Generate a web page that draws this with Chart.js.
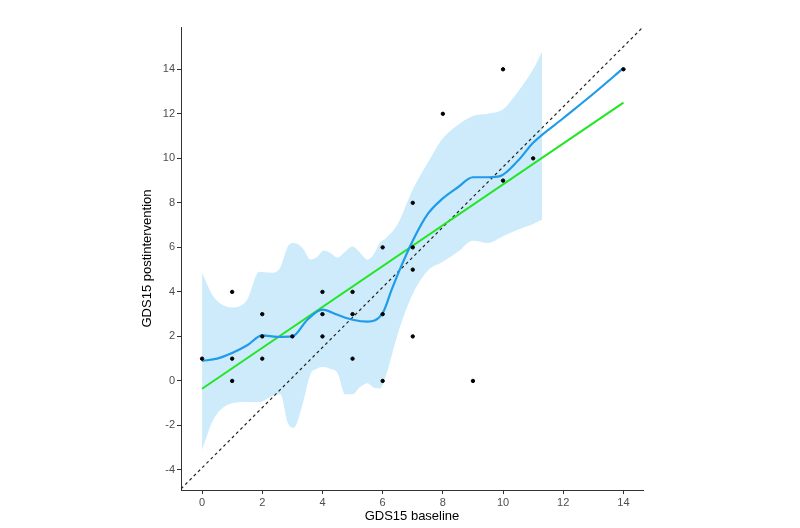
<!DOCTYPE html>
<html>
<head>
<meta charset="utf-8">
<script src="https://cdn.jsdelivr.net/npm/chart.js@4"></script>
<style>
  html, body { margin: 0; padding: 0; background: #fff; }
  #wrap { width: 800px; height: 528px; }
</style>
</head>
<body>
<div id="wrap"><canvas id="gdsChart"></canvas></div>
<script>
// observed scores
var baselineX = [0, 1, 1, 1, 2, 2, 2, 3, 4, 4, 4, 5, 5, 5, 6, 6, 6, 7, 7, 7, 7, 8, 9, 10, 10, 11, 14];
var postY     = [1, 4, 1, 0, 3, 2, 1, 2, 4, 3, 2, 4, 3, 1, 6, 3, 0, 8, 6, 5, 2, 12, 0, 14, 9, 10, 14];

// loess smooth
var loessX = [0, 0.5, 1, 1.5, 2, 2.5, 3, 3.5, 4, 4.5, 5, 5.5, 6, 6.3, 6.6, 7, 7.5, 8, 8.5, 9, 9.5, 9.9, 10.5, 11, 12, 13, 14];
var loessY = [0.9, 1.0, 1.25, 1.6, 2.05, 1.98, 2.0, 2.75, 3.2, 2.97, 2.75, 2.66, 3.05, 4.1, 5.1, 6.3, 7.5, 8.2, 8.7, 9.15, 9.15, 9.2, 9.9, 10.7, 11.8, 12.9, 14.05];

// confidence band of the smooth
var bandX     = [0, 0.37, 1.0, 1.5, 1.9, 2.3, 2.6, 2.85, 3.05, 3.35, 3.6, 3.8, 4.05, 4.25, 4.5, 4.75, 5.0, 5.25, 5.5, 5.7, 5.9, 6.1, 6.5, 7.0, 7.5, 8.0, 8.5, 9.0, 9.5, 10.0, 10.5, 11.0, 11.3];
var bandUpper = [4.86, 3.8, 3.3, 3.65, 4.9, 4.86, 5.1, 6.04, 6.2, 5.95, 5.45, 5.54, 5.86, 5.76, 5.54, 5.8, 6.04, 5.76, 5.45, 5.68, 6.2, 6.4, 7.05, 8.6, 9.8, 10.9, 11.5, 11.9, 12.0, 12.2, 13.0, 14.0, 14.8];
var bandLower = [-3.1, -1.75, -1.0, -0.95, -0.95, -0.7, -0.6, -1.9, -2.1, -1.0, 0.3, 0.55, 0.63, 0.55, 0.36, -0.6, -0.6, -0.27, -0.1, -0.3, -0.35, 0.2, 2.1, 3.9, 4.95, 5.35, 5.8, 6.3, 6.2, 6.5, 6.8, 7.05, 7.25];

// linear fit and dashed reference line
var fitX = [0, 14];
var fitY = [-0.35, 12.5];
var refX = [-0.7, 14.65];
var refY = [-4.85, 15.9];

var xTicks = [0, 2, 4, 6, 8, 10, 12, 14];
var yTicks = [-4, -2, 0, 2, 4, 6, 8, 10, 12, 14];

function pairs(xs, ys) {
    return xs.map(function(x, i) { return { x: x, y: ys[i] }; });
}

var tickFont = { family: 'Liberation Sans, Arial, sans-serif', size: 11 };
var titleFont = { family: 'Liberation Sans, Arial, sans-serif', size: 13 };

var ctx = document.getElementById('gdsChart').getContext('2d');
var chart = new Chart(ctx, {
    type: 'scatter',
    data: {
        datasets: [
            {
                label: 'points',
                data: pairs(baselineX, postY),
                backgroundColor: '#000',
                borderColor: '#000',
                pointRadius: 1.7,
                order: 1
            },
            {
                label: 'loess',
                type: 'line',
                data: pairs(loessX, loessY),
                borderColor: '#1f9be9',
                borderWidth: 2.2,
                pointRadius: 0,
                tension: 0.4,
                cubicInterpolationMode: 'monotone',
                fill: false,
                order: 2
            },
            {
                label: 'linear',
                type: 'line',
                data: pairs(fitX, fitY),
                borderColor: '#22e622',
                borderWidth: 2,
                pointRadius: 0,
                fill: false,
                order: 3
            },
            {
                label: 'reference',
                type: 'line',
                data: pairs(refX, refY),
                borderColor: '#222',
                borderWidth: 1.2,
                borderDash: [3, 3],
                pointRadius: 0,
                fill: false,
                order: 4
            },
            {
                label: 'upper',
                type: 'line',
                data: pairs(bandX, bandUpper),
                borderWidth: 0,
                borderColor: 'rgba(0,0,0,0)',
                pointRadius: 0,
                tension: 0.4,
                cubicInterpolationMode: 'monotone',
                fill: false,
                order: 6
            },
            {
                label: 'lower',
                type: 'line',
                data: pairs(bandX, bandLower),
                borderWidth: 0,
                borderColor: 'rgba(0,0,0,0)',
                backgroundColor: '#cdebfb',
                pointRadius: 0,
                tension: 0.4,
                cubicInterpolationMode: 'monotone',
                fill: '-1',
                order: 5
            }
        ]
    },
    options: {
        responsive: true,
        maintainAspectRatio: false,
        animation: false,
        layout: { padding: { left: 136, right: 157, top: 27, bottom: 2 } },
        plugins: {
            legend: { display: false },
            tooltip: { enabled: false }
        },
        scales: {
            x: {
                type: 'linear',
                min: -0.7,
                max: 14.65,
                afterBuildTicks: function(scale) {
                    scale.ticks = xTicks.map(function(v) { return { value: v }; });
                },
                afterFit: function(scale) { scale.height = 36; },
                grid: {
                    drawOnChartArea: false,
                    drawTicks: true,
                    tickLength: 4,
                    color: '#333'
                },
                border: { display: true, color: '#333', width: 1 },
                ticks: { font: tickFont, color: '#4d4d4d', padding: 2, maxRotation: 0 },
                title: {
                    display: true,
                    text: 'GDS15 baseline',
                    font: titleFont,
                    color: '#000',
                    padding: { top: 0, bottom: 2 }
                }
            },
            y: {
                type: 'linear',
                min: -4.9,
                max: 15.9,
                afterBuildTicks: function(scale) {
                    scale.ticks = yTicks.map(function(v) { return { value: v }; });
                },
                afterFit: function(scale) { scale.width = 45; },
                grid: {
                    drawOnChartArea: false,
                    drawTicks: true,
                    tickLength: 4,
                    color: '#333'
                },
                border: { display: true, color: '#333', width: 1 },
                ticks: { font: tickFont, color: '#4d4d4d', padding: 2 },
                title: {
                    display: true,
                    text: 'GDS15 postintervention',
                    font: titleFont,
                    color: '#000',
                    padding: { top: 4, bottom: 4 }
                }
            }
        }
    }
});
</script>
</body>
</html>
